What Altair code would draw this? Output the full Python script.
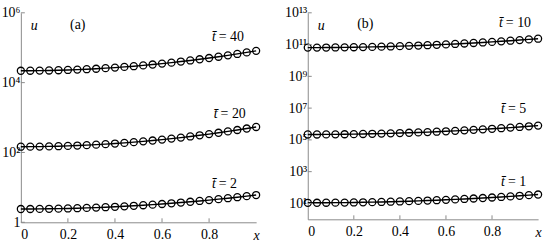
import altair as alt
import pandas as pd

FONT = "Liberation Serif"
AXIS_GRAY = "#8a8a8a"
FS = 14

# ---------------- data ----------------
x_vals = [0.00, 0.04, 0.08, 0.12, 0.16, 0.20, 0.24, 0.28, 0.32, 0.36, 0.40, 0.44, 0.48,
          0.52, 0.56, 0.60, 0.64, 0.68, 0.72, 0.76, 0.80, 0.84, 0.88, 0.92, 0.96, 1.00]

# panel (a)
u_a_t2 = [2.399, 2.403, 2.414, 2.432, 2.457, 2.489, 2.529, 2.578, 2.636, 2.703, 2.780, 2.867, 2.966,
          3.078, 3.202, 3.342, 3.498, 3.673, 3.868, 4.083, 4.325, 4.595, 4.896, 5.232, 5.605, 6.026]
u_a_t20 = [146.2, 146.5, 147.4, 148.9, 151.1, 154.0, 157.6, 162.0, 167.1, 173.1, 180.1, 188.1, 197.3,
           207.9, 219.9, 233.6, 249.2, 266.9, 287.1, 310.0, 336.2, 366.2, 400.6, 439.8, 485.0, 537.0]
u_a_t40 = [21880, 21930, 22080, 22280, 22650, 23070, 23610, 24270, 25000, 25940, 26980, 28180, 29580,
           31190, 33040, 35080, 37410, 40180, 43150, 46670, 50700, 55210, 60390, 66370, 73280, 81280]

# panel (b)
u_b_t1 = [10.96, 10.98, 11.04, 11.15, 11.30, 11.50, 11.75, 12.04, 12.40, 12.81, 13.28, 13.83, 14.45,
          15.16, 15.96, 16.87, 17.91, 19.08, 20.40, 21.90, 23.60, 25.53, 27.71, 30.21, 33.05, 36.31]
u_b_t5 = [2.188e5, 2.192e5, 2.206e5, 2.229e5, 2.261e5, 2.303e5, 2.356e5, 2.420e5, 2.496e5, 2.586e5,
          2.689e5, 2.808e5, 2.944e5, 3.100e5, 3.278e5, 3.479e5, 3.710e5, 3.971e5, 4.269e5, 4.608e5,
          4.994e5, 5.434e5, 5.939e5, 6.515e5, 7.179e5, 7.941e5]
u_b_t10 = [6.457e10, 6.470e10, 6.511e10, 6.578e10, 6.673e10, 6.798e10, 6.955e10, 7.144e10, 7.367e10,
           7.632e10, 7.937e10, 8.288e10, 8.690e10, 9.151e10, 9.674e10, 1.027e11, 1.095e11, 1.172e11,
           1.260e11, 1.360e11, 1.474e11, 1.604e11, 1.753e11, 1.923e11, 2.119e11, 2.344e11]

x_ticks = [0, 0.2, 0.4, 0.6, 0.8]
x_tick_labels = ["0", "0.2", "0.4", "0.6", "0.8"]

y_ticks_a = [1, 1e2, 1e4, 1e6]
y_tick_labels_a = ["1", "10²", "10⁴", "10⁶"]
y_ticks_b = [1e1, 1e3, 1e5, 1e7, 1e9, 1e11, 1e13]
y_tick_labels_b = ["10¹", "10³", "10⁵", "10⁷", "10⁹", "10¹¹", "10¹³"]

# curve labels: italic "t̄" + upright "= n"; x is the left edge of "="
lab_a_rhs = ["= 40", "= 20", "= 2"]
lab_a_x = [0.841, 0.849, 0.841]
lab_a_u = [2.0e5, 1230, 12.6]
lab_b_rhs = ["= 10", "= 5", "= 1"]
lab_b_x = [0.86, 0.869, 0.869]
lab_b_u = [2.2e12, 9.3e6, 224]

panel_tag_a = ["(a)"]
tag_a_x = [0.242]
tag_a_u = [4.5e5]
panel_tag_b = ["(b)"]
tag_b_x = [0.25]
tag_b_u = [1.95e12]


def long_df(series):
    rows = []
    for name, vals in series.items():
        for xv, uv in zip(x_vals, vals):
            rows.append({"x": xv, "u": uv, "series": name})
    return pd.DataFrame(rows)


def label_expr(values, labels):
    expr = "''"
    for v, lab in zip(values, labels):
        expr = f"abs(datum.value - {v!r}) < {abs(v) * 1e-6 + 1e-9!r} ? '{lab}' : (" + expr + ")"
    return expr


def panel(df, ydomain, yticks, ylabels, labs, tag, width, height):
    xs = alt.Scale(domain=[0, 1], nice=False, zero=False)
    ys = alt.Scale(type="log", domain=ydomain, nice=False)

    x_axis = alt.Axis(values=x_ticks, labelExpr=label_expr(x_ticks, x_tick_labels),
                      ticks=False, grid=False, domainColor=AXIS_GRAY,
                      labelFont=FONT, labelFontSize=FS, labelColor="black", labelPadding=5,
                      title="x", titleFont=FONT, titleFontSize=FS, titleFontStyle="italic",
                      titleFontWeight="normal", titleX=width, titleY=17,
                      titleBaseline="alphabetic", titleAlign="center")
    y_axis = alt.Axis(values=yticks, labelExpr=label_expr(yticks, ylabels),
                      ticks=False, grid=False, domainColor=AXIS_GRAY,
                      labelFont=FONT, labelFontSize=FS, labelColor="black", labelPadding=1,
                      title="u", titleFont=FONT, titleFontSize=FS, titleFontStyle="italic",
                      titleFontWeight="normal", titleAngle=0, titleX=13, titleY=13,
                      titleAlign="center", titleBaseline="middle")

    base = alt.Chart(df)
    enc = dict(x=alt.X("x:Q", scale=xs, axis=x_axis),
               y=alt.Y("u:Q", scale=ys, axis=y_axis),
               detail="series:N")
    line = base.mark_line(color="black", strokeWidth=1.4).encode(**enc)
    pts = base.mark_point(shape="circle", filled=False, color="black", size=50,
                          strokeWidth=1.3, opacity=1).encode(**enc)

    ytick_df = pd.DataFrame({"u": yticks})
    yt = alt.Chart(ytick_df).mark_rule(color=AXIS_GRAY, strokeWidth=1).encode(
        y=alt.Y("u:Q", scale=ys), x=alt.value(0), x2=alt.value(4))
    xtick_df = pd.DataFrame({"x": x_ticks[1:]})
    xt = alt.Chart(xtick_df).mark_rule(color=AXIS_GRAY, strokeWidth=1).encode(
        x=alt.X("x:Q", scale=xs), y=alt.value(height), y2=alt.value(height - 4))

    lab_df = pd.DataFrame({"x": labs[1], "u": labs[2], "text": labs[0]})
    rhs = alt.Chart(lab_df).mark_text(font=FONT, fontSize=FS, color="black",
                                      align="left", baseline="middle").encode(
        x=alt.X("x:Q", scale=xs), y=alt.Y("u:Q", scale=ys), text="text:N")
    tbar = alt.Chart(lab_df).mark_text(font=FONT, fontSize=FS, color="black", fontStyle="italic",
                                       align="right", baseline="middle", dx=-3).encode(
        x=alt.X("x:Q", scale=xs), y=alt.Y("u:Q", scale=ys), text=alt.value("t̄"))

    tag_df = pd.DataFrame({"x": tag[1], "u": tag[2], "text": tag[0]})
    tg = alt.Chart(tag_df).mark_text(font=FONT, fontSize=FS, color="black",
                                     align="center", baseline="middle").encode(
        x=alt.X("x:Q", scale=xs), y=alt.Y("u:Q", scale=ys), text="text:N")

    return alt.layer(line, pts, yt, xt, rhs, tbar, tg).properties(width=width, height=height)


df_a = long_df({"t2": u_a_t2, "t20": u_a_t20, "t40": u_a_t40})
df_b = long_df({"t1": u_b_t1, "t5": u_b_t5, "t10": u_b_t10})

left = panel(df_a, [1, 1e6], y_ticks_a, y_tick_labels_a,
             (lab_a_rhs, lab_a_x, lab_a_u), (panel_tag_a, tag_a_x, tag_a_u), 237, 211)
right = panel(df_b, [1, 1e13], y_ticks_b, y_tick_labels_b,
              (lab_b_rhs, lab_b_x, lab_b_u), (panel_tag_b, tag_b_x, tag_b_u), 232, 208)

chart = alt.hconcat(left, right, spacing=21).properties(
    padding={"left": 1, "top": 5, "right": 5, "bottom": 5},
    background="white",
).configure_view(stroke=None)

chart.save("out.html", embed_options={"renderer": "svg", "actions": False})
